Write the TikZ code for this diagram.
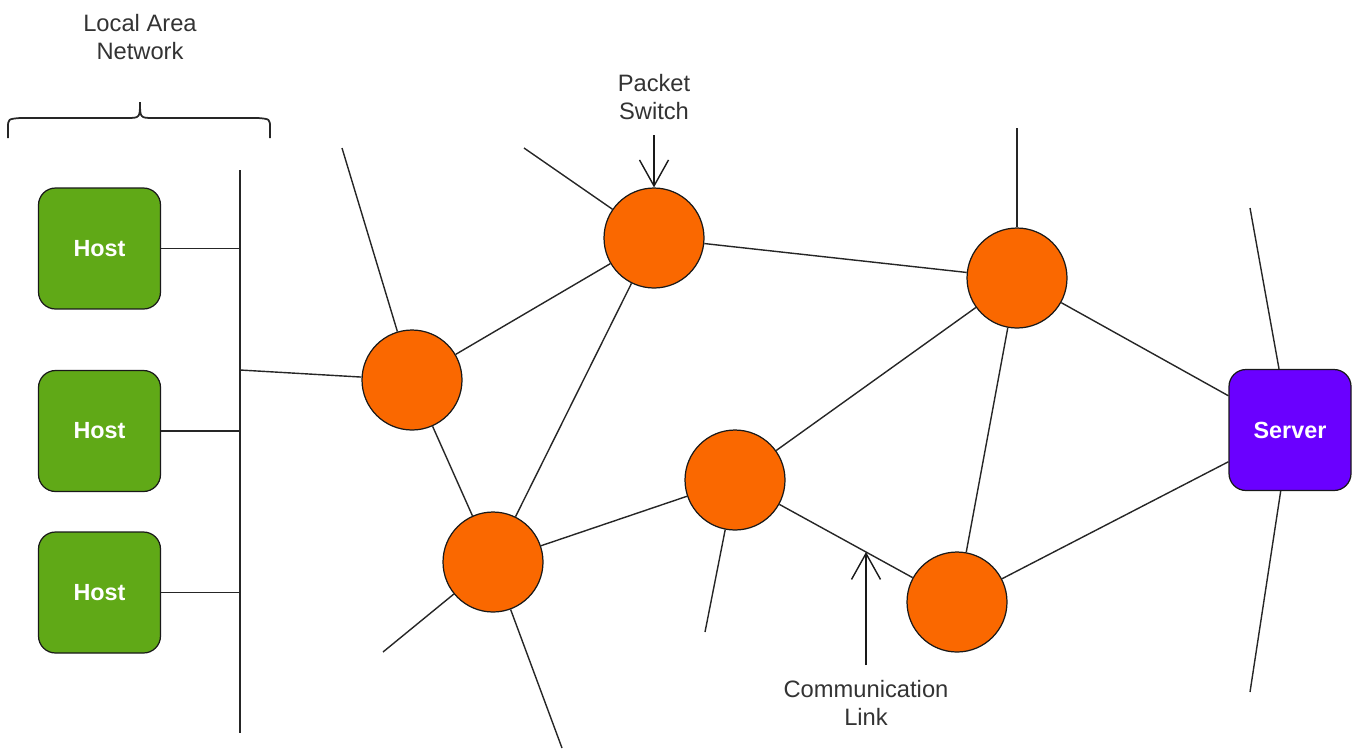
\documentclass[tikz,border=0pt]{standalone}
\usepackage{fontspec}
\setmainfont{Liberation Sans}
\usetikzlibrary{arrows.meta}
\definecolor{hostgreen}{HTML}{60A917}
\definecolor{switchorange}{HTML}{FA6800}
\definecolor{serverpurple}{HTML}{6A00FF}
\definecolor{labelgray}{HTML}{333333}
\begin{document}
\begin{tikzpicture}[x=0.02cm,y=-0.02cm,
  link/.style={line width=0.8pt, draw=black!85},
  switchnode/.style={circle, draw=black!90, line width=0.7pt, fill=switchorange, minimum size=2cm, inner sep=0pt},
  hostbox/.style={rectangle, rounded corners=0.34cm, draw=black!90, line width=0.7pt, fill=hostgreen, minimum width=2.44cm, minimum height=2.42cm, text=white, font=\bfseries\fontsize{13.3}{16}\selectfont},
  serverbox/.style={rectangle, rounded corners=0.34cm, draw=black!90, line width=0.7pt, fill=serverpurple, minimum width=2.44cm, minimum height=2.42cm, text=white, font=\bfseries\fontsize{13.3}{16}\selectfont},
  lbl/.style={text=labelgray, align=center, font=\fontsize{13.5}{16}\selectfont},
  callout/.style={line width=0.8pt, draw=black!90, -{Straight Barb[length=0.52cm, width=0.58cm]}}
]
\useasboundingbox (0,0) rectangle (1354,751);

% hosts
\node[hostbox] (h1) at (99.5,248.5) {Host};
\node[hostbox] (h2) at (99.5,431) {Host};
\node[hostbox] (h3) at (99.5,592.5) {Host};

% bus
\coordinate (bustop) at (240,170);
\coordinate (busbot) at (240,733);
\coordinate (busA) at (240,370);
\draw[link] (bustop) -- (busbot);
\draw[link] (h1.east) -- (h1.east -| bustop);
\draw[link] (h2.east) -- (h2.east -| bustop);
\draw[link] (h3.east) -- (h3.east -| bustop);

% brace
\draw[line width=1pt, black!85] (8,138) -- (8,128) .. controls (8,119) .. (20,118) -- (126,118) .. controls (140,118) .. (140,102) .. controls (140,118) .. (154,118) -- (258,118) .. controls (270,119) .. (270,128) -- (270,138);
\node[lbl] (lan) at (140,37) {Local Area\\Network};

% switches
\node[switchnode] (A) at (412,380) {};
\node[switchnode] (B) at (654,238) {};
\node[switchnode] (C) at (493,562) {};
\node[switchnode] (D) at (735,480) {};
\node[switchnode] (E) at (1017,278) {};
\node[switchnode] (F) at (957,602) {};

% server
\node[serverbox] (S) at (1290,430) {Server};

% free ends
\coordinate (a1) at (342,148);
\coordinate (b1) at (524,148);
\coordinate (e1) at (1017,128);
\coordinate (c1) at (383,652);
\coordinate (c2) at (562,748);
\coordinate (d1) at (705,632);
\coordinate (s1) at (1250,208);
\coordinate (s2) at (1250,692);

\draw[link] (busA) -- (A);
\draw[link] (A) -- (B);
\draw[link] (A) -- (C);
\draw[link] (B) -- (C);
\draw[link] (B) -- (E);
\draw[link] (C) -- (D);
\draw[link] (D) -- (E);
\draw[link] (D) -- (F);
\draw[link] (E) -- (F);
\draw[link] (E) -- (S);
\draw[link] (F) -- (S);
\draw[link] (a1) -- (A);
\draw[link] (b1) -- (B);
\draw[link] (e1) -- (E);
\draw[link] (c1) -- (C);
\draw[link] (c2) -- (C);
\draw[link] (d1) -- (D);
\draw[link] (s1) -- (S);
\draw[link] (s2) -- (S);

% callouts
\node[lbl] (ps) at (654,97) {Packet\\Switch};
\coordinate (pstail) at (654,135);
\draw[callout] (pstail) -- (B.north);

\node[lbl] (cl) at (866,703) {Communication\\Link};
\coordinate (cltail) at (866,665);
\coordinate (cltip) at (866,552);
\draw[callout] (cltail) -- (cltip);
\end{tikzpicture}
\end{document}
